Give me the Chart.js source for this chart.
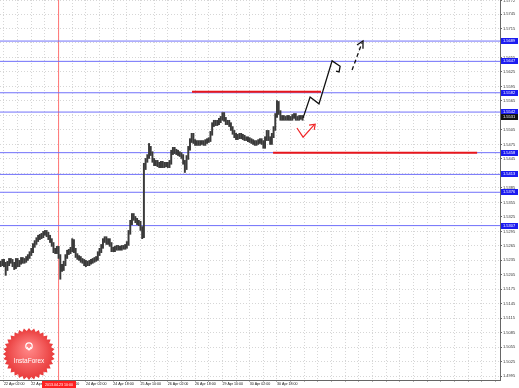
<!DOCTYPE html>
<html>
<head>
<meta charset="utf-8">
<script src="https://cdn.jsdelivr.net/npm/chart.js@4.4.1/dist/chart.umd.min.js"></script>
<style>
html, body { margin: 0; padding: 0; background: #fff; }
#wrap { width: 519px; height: 388px; }
</style>
</head>
<body>
<div id="wrap"><canvas id="myChart" width="519" height="388"></canvas></div>
<script>
// hourly bars, index 0 = 22 Apr 02:00
var firstBar = -2

var highs = [
    1.5233, 1.5237, 1.5237, 1.5231, 1.5233, 1.5239, 1.5239, 1.5237, 1.5231, 1.5239,
    1.5239, 1.5235, 1.5241, 1.5241, 1.5239, 1.5243, 1.5247, 1.5253, 1.5260, 1.5270,
    1.5276, 1.5282, 1.5287, 1.5289, 1.5291, 1.5295, 1.5297, 1.5297, 1.5293, 1.5287,
    1.5280, 1.5272, 1.5260, 1.5264, 1.5264, 1.5247, 1.5227, 1.5233, 1.5247, 1.5256,
    1.5258, 1.5262, 1.5280, 1.5278, 1.5260, 1.5249, 1.5245, 1.5243, 1.5239, 1.5237,
    1.5235, 1.5233, 1.5235, 1.5237, 1.5239, 1.5241, 1.5243, 1.5253, 1.5260, 1.5268,
    1.5280, 1.5284, 1.5284, 1.5280, 1.5280, 1.5272, 1.5262, 1.5264, 1.5266, 1.5266,
    1.5264, 1.5266, 1.5266, 1.5268, 1.5274, 1.5297, 1.5318, 1.5332, 1.5332, 1.5326,
    1.5322, 1.5318, 1.5316, 1.5305, 1.5436, 1.5446, 1.5454, 1.5477, 1.5471, 1.5460,
    1.5446, 1.5442, 1.5442, 1.5438, 1.5440, 1.5440, 1.5438, 1.5438, 1.5438, 1.5442,
    1.5463, 1.5469, 1.5469, 1.5465, 1.5463, 1.5460, 1.5458, 1.5454, 1.5442, 1.5452,
    1.5471, 1.5487, 1.5498, 1.5498, 1.5485, 1.5483, 1.5483, 1.5483, 1.5483, 1.5483,
    1.5485, 1.5487, 1.5489, 1.5502, 1.5520, 1.5525, 1.5525, 1.5525, 1.5529, 1.5533,
    1.5541, 1.5541, 1.5531, 1.5525, 1.5525, 1.5520, 1.5512, 1.5504, 1.5498, 1.5496,
    1.5498, 1.5498, 1.5496, 1.5494, 1.5491, 1.5491, 1.5489, 1.5487, 1.5485, 1.5483,
    1.5483, 1.5485, 1.5487, 1.5487, 1.5483, 1.5491, 1.5504, 1.5504, 1.5491, 1.5498,
    1.5512, 1.5539, 1.5566, 1.5564, 1.5545, 1.5535, 1.5535, 1.5533, 1.5535, 1.5535,
    1.5533, 1.5537, 1.5539, 1.5539, 1.5533, 1.5535, 1.5535, 1.5535
]

var lows = [
    1.5222, 1.5224, 1.5222, 1.5204, 1.5214, 1.5224, 1.5229, 1.5222, 1.5216, 1.5218,
    1.5222, 1.5222, 1.5227, 1.5229, 1.5229, 1.5231, 1.5235, 1.5239, 1.5245, 1.5251,
    1.5262, 1.5268, 1.5274, 1.5278, 1.5280, 1.5282, 1.5287, 1.5284, 1.5278, 1.5272,
    1.5264, 1.5251, 1.5249, 1.5249, 1.5239, 1.5196, 1.5212, 1.5214, 1.5224, 1.5239,
    1.5247, 1.5249, 1.5253, 1.5251, 1.5241, 1.5237, 1.5235, 1.5231, 1.5229, 1.5224,
    1.5222, 1.5224, 1.5224, 1.5227, 1.5229, 1.5231, 1.5233, 1.5235, 1.5245, 1.5251,
    1.5260, 1.5272, 1.5268, 1.5268, 1.5264, 1.5253, 1.5253, 1.5253, 1.5256, 1.5256,
    1.5256, 1.5256, 1.5258, 1.5258, 1.5260, 1.5266, 1.5289, 1.5309, 1.5318, 1.5313,
    1.5309, 1.5307, 1.5297, 1.5280, 1.5282, 1.5423, 1.5438, 1.5446, 1.5452, 1.5438,
    1.5431, 1.5431, 1.5429, 1.5427, 1.5427, 1.5427, 1.5427, 1.5429, 1.5427, 1.5427,
    1.5434, 1.5454, 1.5456, 1.5454, 1.5452, 1.5450, 1.5446, 1.5434, 1.5417, 1.5423,
    1.5444, 1.5463, 1.5479, 1.5477, 1.5473, 1.5473, 1.5473, 1.5473, 1.5475, 1.5473,
    1.5473, 1.5477, 1.5479, 1.5481, 1.5494, 1.5512, 1.5514, 1.5514, 1.5516, 1.5520,
    1.5525, 1.5523, 1.5516, 1.5516, 1.5512, 1.5504, 1.5496, 1.5489, 1.5485, 1.5485,
    1.5487, 1.5487, 1.5485, 1.5483, 1.5483, 1.5481, 1.5479, 1.5477, 1.5475, 1.5473,
    1.5473, 1.5475, 1.5477, 1.5475, 1.5467, 1.5467, 1.5483, 1.5483, 1.5475, 1.5475,
    1.5489, 1.5504, 1.5531, 1.5537, 1.5525, 1.5525, 1.5525, 1.5525, 1.5525, 1.5525,
    1.5525, 1.5525, 1.5529, 1.5525, 1.5525, 1.5525, 1.5527, 1.5525
]

var yTicks = [1.4995, 1.5025, 1.5055, 1.5085, 1.5115, 1.5145, 1.5175, 1.5205, 1.5235,
    1.5265, 1.5295, 1.5325, 1.5355, 1.5385, 1.5415, 1.5445, 1.5475, 1.5505, 1.5535,
    1.5565, 1.5595, 1.5625, 1.5655, 1.5685, 1.5715, 1.5745, 1.5772]

// one label every 16 bars
var xLabels = ['22 Apr 02:00', '22 Apr 18:00', '23 Apr 10:00', '24 Apr 02:00', '24 Apr 18:00',
    '25 Apr 10:00', '26 Apr 02:00', '26 Apr 18:00', '29 Apr 10:00', '30 Apr 02:00', '30 Apr 18:00']

var levels = [1.5689, 1.5647, 1.5582, 1.5542, 1.5458, 1.5413, 1.5376, 1.5307]
var lastPrice = 1.5531

var crossBar = 32
var crossLabel = '2013.04.23 10:00'

var xMin = -2.34, xMax = 290.7
var yMin = 1.49874, yMax = 1.5774

var redLine1 = [{x: 110.2, y: 1.5584}, {x: 185.8, y: 1.5584}]
var redLine2 = [{x: 157.7, y: 1.5458}, {x: 277.3, y: 1.5458}]
var forecastPath = [{x: 175.3, y: 1.5530}, {x: 179.4, y: 1.5573}, {x: 184.6, y: 1.5559},
    {x: 192.3, y: 1.5648}, {x: 197.0, y: 1.5637}, {x: 196.4, y: 1.5625}, {x: 194.6, y: 1.5627}]
var forecastDash = [{x: 204.0, y: 1.5629}, {x: 209.8, y: 1.5685}]
var forecastHead = [{x: 206.9, y: 1.5681}, {x: 210.4, y: 1.5689}, {x: 210.4, y: 1.5673}]
var redArrow = [{x: 171.7, y: 1.5509}, {x: 175.3, y: 1.5490}, {x: 181.9, y: 1.5516}]
var redHead = [{x: 178.8, y: 1.5515}, {x: 182.4, y: 1.5517}, {x: 181.8, y: 1.5505}]

var bars = []
for (var k = 0; k < highs.length; k++) {
    bars.push({x: firstBar + k, y: [lows[k], highs[k]]})
}

function lineSet(pts, color, width, dash, order) {
    return {
        type: 'line', data: pts, borderColor: color, borderWidth: width,
        borderDash: dash || [], pointRadius: 0, fill: false, tension: 0,
        order: order || 1
    }
}

var datasets = [
    lineSet(redLine1, 'rgb(232,22,27)', 2),
    lineSet(redLine2, 'rgb(232,22,27)', 2),
    lineSet(forecastPath, '#111', 1.3),
    lineSet(forecastDash, '#111', 1.3, [4, 3]),
    lineSet(forecastHead, '#111', 1.3),
    lineSet(redArrow, 'rgb(240,40,42)', 1.2),
    lineSet(redHead, 'rgb(240,40,42)', 1.2),
    {
        type: 'bar', data: bars, backgroundColor: '#3a3a3a',
        borderWidth: 0, barThickness: 1.3, order: 2
    }
]
levels.forEach(function(v) {
    datasets.push(lineSet([{x: xMin, y: v}, {x: xMax, y: v}], 'rgb(112,112,250)', 1, null, 3))
})
datasets.push(lineSet([{x: crossBar, y: yMin}, {x: crossBar, y: yMax}], 'rgb(255,115,115)', 1, null, 3))

var overlay = {
    id: 'overlay',
    afterDraw: function(chart) {
        var ctx = chart.ctx, a = chart.chartArea, ys = chart.scales.y, xs = chart.scales.x
        ctx.save()
        ctx.setLineDash([])
        ctx.font = '4px "Liberation Sans"'
        ctx.textBaseline = 'middle'
        ctx.textAlign = 'left'
        function box(v, fill) {
            var py = Math.round(ys.getPixelForValue(v))
            ctx.fillStyle = fill
            ctx.fillRect(a.right + 1, py - 3, 17, 6)
            ctx.fillStyle = '#fff'
            ctx.fillText(v.toFixed(4), a.right + 3, py)
        }
        levels.forEach(function(v) { box(v, '#1c1cf0') })
        box(lastPrice, '#111')

        // crosshair date label
        var cx = Math.round(xs.getPixelForValue(crossBar))
        ctx.fillStyle = '#ff2020'
        ctx.fillRect(cx - 17, a.bottom + 1, 34, 7)
        ctx.fillStyle = '#fff'
        ctx.font = '3.6px "Liberation Sans"'
        ctx.textAlign = 'center'
        ctx.fillText(crossLabel, cx, a.bottom + 4.5)

        // InstaForex badge
        var bx = 29, by = 354, ro = 26, ri = 23, n = 32
        var g = ctx.createRadialGradient(bx, by - 6, 2, bx, by, ro)
        g.addColorStop(0, '#ff8585')
        g.addColorStop(1, '#e83838')
        ctx.fillStyle = g
        ctx.beginPath()
        for (var s = 0; s < n * 2; s++) {
            var r = s % 2 ? ri : ro
            var ang = Math.PI * s / n
            var px = bx + r * Math.cos(ang), py = by + r * Math.sin(ang)
            if (s === 0) ctx.moveTo(px, py); else ctx.lineTo(px, py)
        }
        ctx.closePath()
        ctx.fill()
        ctx.strokeStyle = '#fff'
        ctx.lineWidth = 1.2
        ctx.beginPath(); ctx.arc(bx, by - 8, 3.2, 0, Math.PI * 2); ctx.stroke()
        ctx.beginPath(); ctx.moveTo(bx - 2, by - 7); ctx.lineTo(bx, by - 4); ctx.lineTo(bx + 2, by - 7); ctx.stroke()
        ctx.fillStyle = '#fff'
        ctx.font = '6.5px "Liberation Sans"'
        ctx.textAlign = 'center'
        ctx.fillText('InstaForex', bx, by + 7)
        ctx.restore()
    }
}

var chart = new Chart(document.getElementById('myChart').getContext('2d'), {
    type: 'bar',
    data: { datasets: datasets },
    options: {
        responsive: false,
        animation: false,
        devicePixelRatio: 1,
        layout: { padding: 0 },
        plugins: { legend: { display: false }, tooltip: { enabled: false } },
        scales: {
            x: {
                type: 'linear',
                min: xMin,
                max: xMax,
                offset: false,
                afterBuildTicks: function(scale) {
                    var t = []
                    for (var v = 0; v <= 288; v += 8) t.push({value: v})
                    scale.ticks = t
                },
                afterFit: function(scale) {
                    scale.height = 8
                    scale.paddingLeft = 0
                    scale.paddingRight = 0
                },
                ticks: {
                    autoSkip: false, maxRotation: 0, minRotation: 0, align: 'start',
                    padding: 0, color: '#111',
                    font: { family: 'Liberation Sans', size: 3.6 },
                    callback: function(v) {
                        return v % 16 === 0 && xLabels[v / 16] ? xLabels[v / 16] : ''
                    }
                },
                grid: { color: '#d6d6d6', tickLength: 1.5, tickColor: '#666', offset: false },
                border: { color: '#666', width: 1, dash: [1, 2] }
            },
            y: {
                position: 'right',
                min: yMin,
                max: yMax,
                afterBuildTicks: function(scale) {
                    scale.ticks = yTicks.map(function(v) { return {value: v} })
                },
                afterFit: function(scale) {
                    scale.width = 19
                    scale.paddingTop = 0
                    scale.paddingBottom = 0
                },
                ticks: {
                    padding: 1, color: '#333',
                    font: { family: 'Liberation Sans', size: 4 },
                    callback: function(v) { return v.toFixed(4) }
                },
                grid: { color: '#d6d6d6', tickLength: 2, tickColor: '#666' },
                border: { color: '#666', width: 1, dash: [1, 2] }
            }
        }
    },
    plugins: [overlay]
})
</script>
</body>
</html>
